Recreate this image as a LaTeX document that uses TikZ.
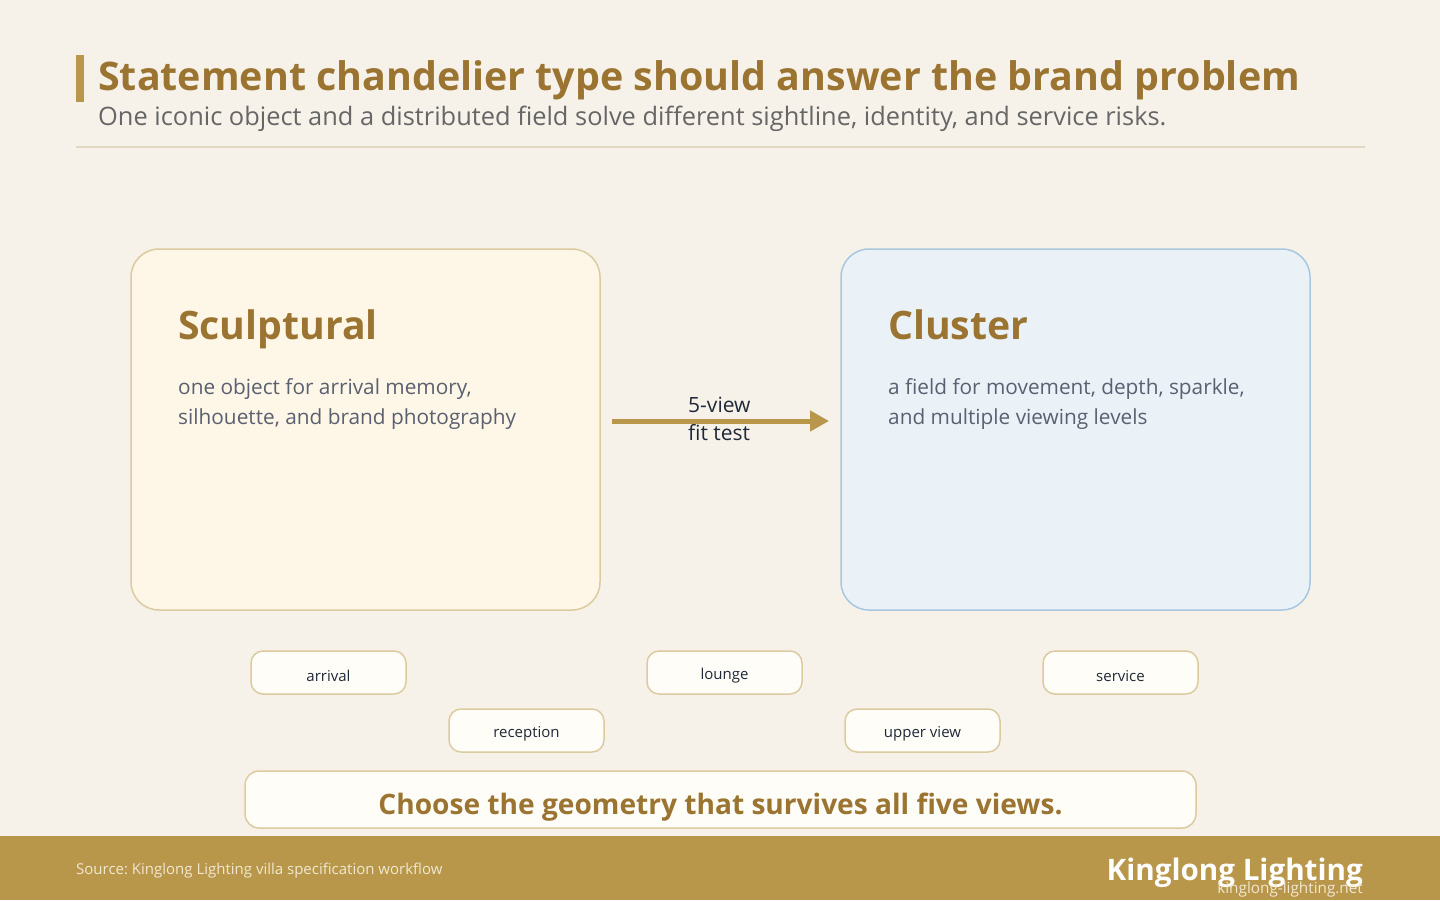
\documentclass[tikz,border=0pt]{standalone}
\usepackage{fontspec}
\setmainfont{Open Sans}
\usetikzlibrary{arrows.meta}
\frenchspacing
\definecolor{bg}{HTML}{F6F2EA}
\definecolor{gold}{HTML}{B8964A}
\definecolor{title}{HTML}{9A7430}
\definecolor{subgray}{HTML}{666666}
\definecolor{rulec}{HTML}{E2D7C3}
\definecolor{warmfill}{HTML}{FEF7E8}
\definecolor{warmline}{HTML}{DCCBA0}
\definecolor{coolfill}{HTML}{EAF2F8}
\definecolor{coolline}{HTML}{A9C7DF}
\definecolor{bodyc}{HTML}{5A6070}
\definecolor{dark}{HTML}{1F2937}
\definecolor{pillfill}{HTML}{FFFDF8}
\definecolor{footc}{HTML}{F1E8D0}
\newcommand{\pilltext}[1]{\raisebox{-3.5pt}[\height][\depth]{#1}}
\tikzset{
  x=1pt,y=-1pt,
  panel/.style={draw, line width=1.5pt, rounded corners=28pt},
  pill/.style={draw=warmline, fill=pillfill, line width=1.5pt, rounded corners=12pt, minimum width=155pt, minimum height=43pt, inner sep=0pt, text=dark, font=\fontsize{15}{18}\selectfont},
  heading/.style={anchor=base west, inner sep=0pt, text=title, font=\bfseries\fontsize{39.2}{47}\selectfont},
  bodytext/.style={anchor=north west, inner sep=0pt, text=bodyc, align=left, font=\fontsize{20.8}{30}\selectfont},
}
\begin{document}
\begin{tikzpicture}
\fill[bg] (0,0) rectangle (1440,900);
\useasboundingbox (0,0) rectangle (1440,900);
% header
\fill[gold] (76,55) rectangle (84,102);
\node[anchor=base west, inner sep=0pt, text=title, font=\bfseries\fontsize{39.4}{48}\selectfont] (ttl) at (98,90) {Statement chandelier type should answer the brand problem};
\node[anchor=base west, inner sep=0pt, text=subgray, font=\fontsize{25.4}{30}\selectfont] (sub) at (98,125) {One iconic object and a distributed field solve different sightline, identity, and service risks.};
\draw[rulec, line width=1.5pt] (76,147) -- (1365,147);
% panels
\draw[panel, draw=warmline, fill=warmfill] (131,249) rectangle (600,610);
\draw[panel, draw=coolline, fill=coolfill] (841,249) rectangle (1310,610);
\node[heading] (h1) at (178,339) {Sculptural};
\node[bodytext] (b1) at (178,378) {one object for arrival memory,\\silhouette, and brand photography};
\node[heading] (h2) at (888,339) {Cluster};
\node[bodytext] (b2) at (888,378) {a field for movement, depth, sparkle,\\and multiple viewing levels};
% arrow
\coordinate (a1) at (612,421);
\coordinate (a2) at (829,421);
\draw[gold, line width=5pt, -{Triangle[length=19pt,width=20pt]}] (a1) -- (a2);
\node[anchor=north west, inner sep=0pt, text=dark, align=left, font=\fontsize{21}{28}\selectfont] (lbl) at (688,397) {5-view\\fit test};
% pills
\node[pill] (p1) at (328.5,672.5) {\pilltext{arrival}};
\node[pill] (p2) at (724.5,672.5) {\pilltext{lounge}};
\node[pill] (p3) at (1120.5,672.5) {\pilltext{service}};
\node[pill] (p4) at (526.5,730.5) {\pilltext{reception}};
\node[pill] (p5) at (922.5,730.5) {\pilltext{upper view}};
% conclusion
\draw[draw=warmline, fill=pillfill, line width=1.5pt, rounded corners=14pt] (245,771) rectangle (1196,828);
\node[text=title, font=\bfseries\fontsize{28.1}{33}\selectfont, inner sep=0pt] (conc) at (720.5,807) {Choose the geometry that survives all five views.};
% footer
\fill[gold] (0,836) rectangle (1440,900);
\node[anchor=base west, inner sep=0pt, text=footc, font=\fontsize{15}{18}\selectfont] (src) at (76,874) {Source: Kinglong Lighting villa specification workflow};
\node[anchor=base east, inner sep=0pt, text=white, font=\bfseries\fontsize{29.6}{34}\selectfont] (brand) at (1363,880) {Kinglong Lighting};
\node[anchor=base east, inner sep=0pt, text=footc, font=\fontsize{15.3}{19}\selectfont] (url) at (1363,893) {kinglong-lighting.net};
\end{tikzpicture}
\end{document}
